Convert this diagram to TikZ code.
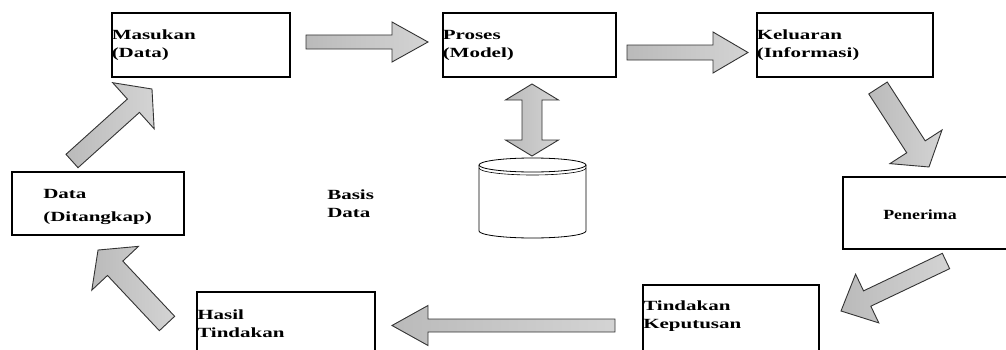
\documentclass[tikz,border=0pt]{standalone}
\usepackage{fontspec}
\setmainfont{Liberation Serif}
\usetikzlibrary{calc}

% panah blok dari #1 ke #2, #3 = {setengah batang}{setengah kepala}{panjang kepala}
\newcommand{\blokpanah}[3]{%
  \path let \p1=(#1), \p2=(#2), \n1={atan2(\y2-\y1,\x2-\x1)},
    \n2={veclen(\x2-\x1,\y2-\y1)} in (\p1) pic[rotate=\n1] {panah={\n2}#3};}

\begin{document}
\begin{tikzpicture}[x=1pt, y=1pt,
  kotak/.style={draw, line width=1.1pt, inner sep=0pt},
  teks/.style={font=\fontsize{14}{18}\selectfont\bfseries, align=left,
    inner sep=0pt, xscale=1.5},
  blok/.style={draw=black!80, line width=0.9pt, line join=miter,
    left color=black!27, right color=black!17},
  pics/panah/.style n args={4}{code={%
    \draw[blok] (0,-#2) -- ({#1-#4},-#2) -- ({#1-#4},-#3) -- (#1,0)
      -- ({#1-#4},#3) -- ({#1-#4},#2) -- (0,#2) -- cycle;}},
  pics/panahganda/.style n args={4}{code={%
    \draw[blok] (0,0) -- (#4,-#3) -- (#4,-#2) -- ({#1-#4},-#2) -- ({#1-#4},-#3)
      -- (#1,0) -- ({#1-#4},#3) -- ({#1-#4},#2) -- (#4,#2) -- (#4,#3) -- cycle;}}]
  \useasboundingbox (0,0) rectangle (1006,349);

  % kotak-kotak
  \node[kotak, minimum width=178, minimum height=64] (masukan) at (201,304) {};
  \node[kotak, minimum width=173, minimum height=64] (proses) at (529.5,304) {};
  \node[kotak, minimum width=176, minimum height=64] (keluaran) at (845,304) {};
  \node[kotak, minimum width=172, minimum height=63] (data) at (98,145.5) {};
  \node[kotak, minimum width=167, minimum height=72] (penerima) at (926.5,136) {};
  \node[kotak, minimum width=176, minimum height=70] (keputusan) at (731,29) {};
  \node[kotak, minimum width=178, minimum height=70] (hasil) at (286,22) {};

  % teks
  \node[teks, anchor=west] (tmasukan) at (masukan.west) {Masukan\\(Data)};
  \node[teks, anchor=west] (tproses) at (proses.west) {Proses\\(Model)};
  \node[teks, anchor=west] (tkeluaran) at (keluaran.west) {Keluaran\\(Informasi)};
  \node[teks, anchor=west] (tdata) at (43,142) {Data\\[5pt](Ditangkap)};
  \node[teks, anchor=west] (tbasis) at (327,145) {Basis\\Data};
  \node[teks, xscale=0.85] (tpenerima) at (920,134) {Penerima};
  \node[teks, anchor=west] (tkeputusan) at (643,32.5) {Tindakan\\Keputusan};
  \node[teks, anchor=west] (thasil) at (197,25.5) {Hasil\\Tindakan};

  % basis data (silinder)
  \coordinate (silinder) at (532.5,184);
  \draw[line width=0.8pt, fill=white] ($(silinder)+(-53.5,0)$) -- ++(0,-66)
    arc[start angle=180, end angle=360, x radius=53.5, y radius=7] -- ++(0,66);
  \draw[line width=0.8pt, fill=white] (silinder) ellipse[x radius=53.5, y radius=7];
  \draw[line width=0.6pt] ($(silinder)+(-53.5,-3)$)
    arc[start angle=180, end angle=360, x radius=53.5, y radius=7];

  % ujung-ujung panah
  \coordinate (a1) at (306,307);   \coordinate (b1) at (428,307);
  \coordinate (a2) at (627,296.5); \coordinate (b2) at (748,296.5);
  \coordinate (a3) at (878,261);   \coordinate (b3) at (929,182);
  \coordinate (a4) at (946,88);    \coordinate (b4) at (841,38);
  \coordinate (a5) at (615,23.5);  \coordinate (b5) at (392,23.5);
  \coordinate (a6) at (167,25.5);  \coordinate (b6) at (98,99);
  \coordinate (a7) at (72,188);    \coordinate (b7) at (152,260);
  \coordinate (a8) at (532,193);   \coordinate (b8) at (532,265);

  \blokpanah{a1}{b1}{{7}{20}{36}}
  \blokpanah{a2}{b2}{{7.5}{20.5}{35}}
  \blokpanah{a3}{b3}{{11}{31}{24}}
  \blokpanah{a4}{b4}{{8.5}{27}{29}}
  \blokpanah{a5}{b5}{{6.5}{20}{36}}
  \blokpanah{a6}{b6}{{10.5}{32}{25}}
  \blokpanah{a7}{b7}{{9}{31}{25}}
  \path (a8) pic[rotate=90] {panahganda={72}{10}{26.5}{16}};
\end{tikzpicture}
\end{document}
